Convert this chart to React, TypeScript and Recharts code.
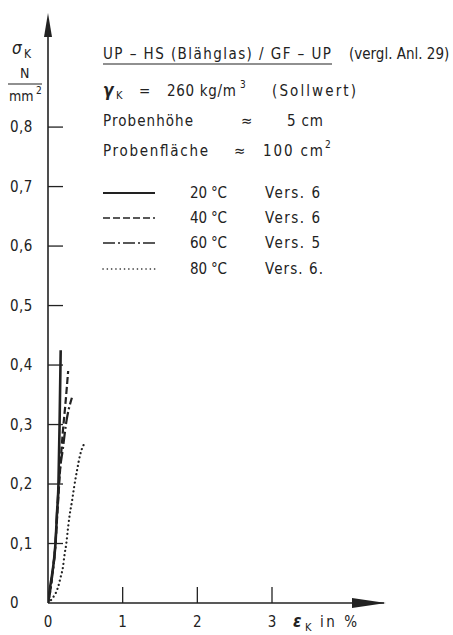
import { LineChart, Line, XAxis, YAxis } from 'recharts'

// strain eps_K in %, stress sigma_K in N/mm2
const eps20 = [0, 0.02, 0.045, 0.08, 0.1, 0.12, 0.14, 0.155, 0.17]
const sig20 = [0, 0.02, 0.04, 0.072, 0.1, 0.15, 0.2, 0.3, 0.425]

const eps40 = [0, 0.03, 0.06, 0.1, 0.13, 0.16, 0.2, 0.23, 0.27]
const sig40 = [0, 0.02, 0.05, 0.1, 0.16, 0.22, 0.29, 0.33, 0.39]

const eps60 = [0, 0.03, 0.06, 0.1, 0.12, 0.15, 0.2, 0.24, 0.32]
const sig60 = [0, 0.02, 0.05, 0.1, 0.15, 0.21, 0.26, 0.3, 0.345]

const eps80 = [0, 0.06, 0.13, 0.17, 0.2, 0.22, 0.245, 0.27, 0.29, 0.32, 0.35, 0.39, 0.43, 0.5]
const sig80 = [0, 0.008, 0.025, 0.044, 0.06, 0.08, 0.1, 0.128, 0.148, 0.17, 0.195, 0.224, 0.249, 0.271]

const xTicks = [0, 1, 2, 3]
const yTicks = [0, 0.1, 0.2, 0.3, 0.4, 0.5, 0.6, 0.7, 0.8]

const legendTemps = ['20 °C', '40 °C', '60 °C', '80 °C']
const legendVers = ['Vers. 6', 'Vers. 6', 'Vers. 5', 'Vers. 6.']

const INK = '#222'
const FONT = '"DejaVu Sans Condensed", "DejaVu Sans", sans-serif'

const toPoints = (xs: number[], ys: number[]) => xs.map((x, i) => ({ x, y: ys[i] }))

const SERIES = [
  { key: 's20', data: toPoints(eps20, sig20), dash: undefined, width: 2.6, cap: 'butt' },
  { key: 's40', data: toPoints(eps40, sig40), dash: '7 3', width: 2.2, cap: 'butt' },
  { key: 's60', data: toPoints(eps60, sig60), dash: '12 3 2 3', width: 2.2, cap: 'butt' },
  { key: 's80', data: toPoints(eps80, sig80), dash: '0.1 4.2', width: 2.2, cap: 'round' },
]

const fmt = (v: number) => String(v).replace('.', ',')

function XTick(props: any) {
  const { x, y, payload } = props
  return (
    <g>
      {payload.value !== 0 && <line x1={x} y1={y} x2={x} y2={y - 16} stroke={INK} strokeWidth={1.3} />}
      <text x={x} y={y + 24} textAnchor="middle" fontFamily={FONT} fontSize={15} fill={INK}>
        {fmt(payload.value)}
      </text>
    </g>
  )
}

function YTick(props: any) {
  const { x, y, payload } = props
  return (
    <g>
      {payload.value !== 0 && <line x1={x} y1={y} x2={x + 15} y2={y} stroke={INK} strokeWidth={1.3} />}
      <text x={10} y={y + 5} textAnchor="start" fontFamily={FONT} fontSize={15} fill={INK} letterSpacing={0.5}>
        {fmt(payload.value)}
      </text>
    </g>
  )
}

export default function App() {
  const rowY = [193, 218, 243, 269]
  return (
    <div style={{ position: 'absolute', left: 0, top: 0, width: 453, height: 635, background: '#fff' }}>
      <LineChart width={453} height={635} margin={{ top: 20, right: 69, left: 0, bottom: 0 }}>
        <XAxis
          dataKey="x"
          type="number"
          domain={[0, 4.5]}
          ticks={xTicks}
          height={32}
          tickSize={0}
          tickMargin={0}
          tickLine={false}
          axisLine={{ stroke: INK, strokeWidth: 1.5 }}
          tick={XTick}
          allowDataOverflow
        />
        <YAxis
          type="number"
          domain={[0, 0.98]}
          ticks={yTicks}
          width={48}
          tickSize={0}
          tickMargin={0}
          tickLine={false}
          axisLine={{ stroke: INK, strokeWidth: 1.6 }}
          tick={YTick}
          allowDataOverflow
        />
        {SERIES.map(s => (
          <Line
            key={s.key}
            data={s.data}
            dataKey="y"
            type="monotone"
            stroke={INK}
            strokeWidth={s.width}
            strokeDasharray={s.dash}
            strokeLinecap={s.cap as any}
            dot={false}
            activeDot={false}
            isAnimationActive={false}
          />
        ))}
      </LineChart>
      <svg
        width={453}
        height={635}
        style={{ position: 'absolute', left: 0, top: 0, pointerEvents: 'none' }}
        fontFamily={FONT}
        fill={INK}
      >
        {/* axis arrows */}
        <polygon points="48,13 44,37 52,37" fill={INK} />
        <polygon points="386,603 352,598 352,608" fill={INK} />

        {/* y label */}
        <text x={12} y={54} fontSize={17} fontStyle="italic">σ</text>
        <text x={24} y={58} fontSize={12}>K</text>
        <text x={20} y={78} fontSize={14}>N</text>
        <line x1={8} y1={84} x2={42} y2={84} stroke={INK} strokeWidth={1.2} />
        <text x={9} y={101} fontSize={14}>mm</text>
        <text x={36} y={94} fontSize={10}>2</text>

        {/* x label */}
        <text x={293} y={627} fontSize={17} fontWeight="bold" fontStyle="italic">ε</text>
        <text x={305} y={631} fontSize={11}>K</text>
        <text x={320} y={627} fontSize={15} textLength={37} lengthAdjust="spacing">in %</text>

        {/* header */}
        <text x={103} y={59} fontSize={15} textLength={228} lengthAdjust="spacing">UP – HS (Blähglas) / GF – UP</text>
        <line x1={103} y1={64} x2={332} y2={64} stroke={INK} strokeWidth={1.2} />
        <text x={349} y={59} fontSize={15}>(vergl. Anl. 29)</text>

        <text x={103} y={96} fontSize={17} fontWeight="bold" fontStyle="italic">γ</text>
        <text x={116} y={99} fontSize={11}>K</text>
        <text x={139} y={96} fontSize={15}>=</text>
        <text x={167} y={96} fontSize={15} textLength={69} lengthAdjust="spacing">260 kg/m</text>
        <text x={240} y={88} fontSize={10}>3</text>
        <text x={272} y={96} fontSize={15} textLength={84} lengthAdjust="spacing">(Sollwert)</text>

        <text x={103} y={126} fontSize={15} textLength={90} lengthAdjust="spacing">Probenhöhe</text>
        <text x={241} y={126} fontSize={15}>≈</text>
        <text x={287} y={126} fontSize={15} textLength={36} lengthAdjust="spacing">5 cm</text>

        <text x={103} y={156} fontSize={15} textLength={105} lengthAdjust="spacing">Probenfläche</text>
        <text x={234} y={156} fontSize={15}>≈</text>
        <text x={263} y={156} fontSize={15} textLength={60} lengthAdjust="spacing">100 cm</text>
        <text x={325} y={148} fontSize={10}>2</text>

        {/* legend */}
        {SERIES.map((s, i) => (
          <g key={s.key}>
            <line
              x1={103}
              y1={rowY[i]}
              x2={155}
              y2={rowY[i]}
              stroke={INK}
              strokeWidth={s.width - 0.6}
              strokeDasharray={s.dash}
              strokeLinecap={s.cap as any}
            />
            <text x={190} y={rowY[i] + 5} fontSize={15} textLength={37} lengthAdjust="spacing">{legendTemps[i]}</text>
            <text x={265} y={rowY[i] + 5} fontSize={15} textLength={i === 3 ? 58 : 55} lengthAdjust="spacing">{legendVers[i]}</text>
          </g>
        ))}
      </svg>
    </div>
  )
}
